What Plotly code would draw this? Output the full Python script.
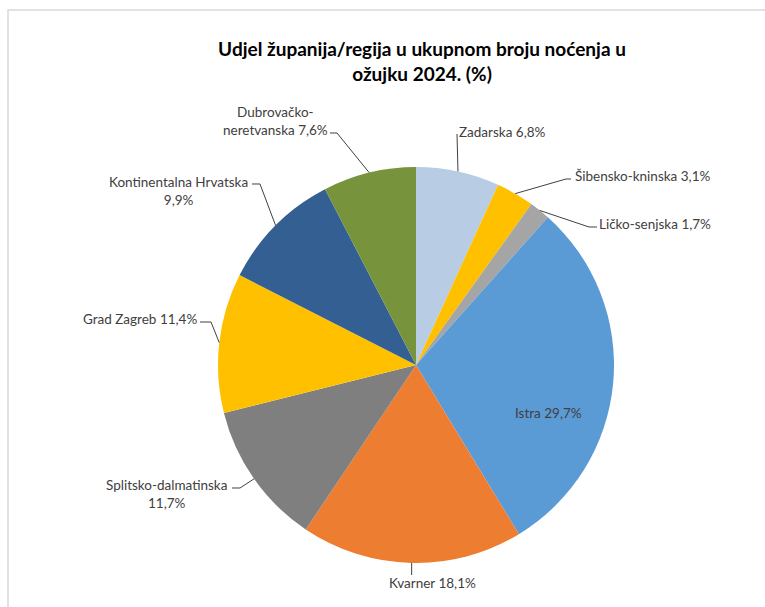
import math
import plotly.graph_objects as go

# ---- data ----
regions = ["Zadarska", "Šibensko-kninska", "Ličko-senjska", "Istra", "Kvarner",
           "Splitsko-dalmatinska", "Grad Zagreb", "Kontinentalna Hrvatska",
           "Dubrovačko-neretvanska"]
shares = [6.8, 3.1, 1.7, 29.7, 18.1, 11.7, 11.4, 9.9, 7.6]
colors = ["#B8CCE4", "#FFC000", "#A5A5A5", "#5B9BD5", "#ED7D31",
          "#7F7F7F", "#FFC000", "#335F93", "#77933C"]
title_text = "Udjel županija/regija u ukupnom broju noćenja u<br>ožujku 2024. (%)"

# ---- layout config (pixel positions in a 765x607 canvas) ----
W, H = 765, 607
CX, CY, R = 416, 365, 198
# label text: name separator ("<br>" or " "), centre of text, elbow points of leader line
label_cfg = {
    "Zadarska": dict(sep=" ", pos=(502, 132), elbow=[(457, 134)]),
    "Šibensko-kninska": dict(sep=" ", pos=(642, 176), elbow=[(571, 179), (566, 179)]),
    "Ličko-senjska": dict(sep=" ", pos=(655, 224), elbow=[(597, 227), (589, 227)]),
    "Istra": dict(sep=" ", pos=(548, 413), elbow=None),
    "Kvarner": dict(sep=" ", pos=(432, 583), elbow="vertical"),
    "Splitsko-dalmatinska": dict(sep="<br>", pos=(166, 494), elbow=[(232, 488), (240, 488)]),
    "Grad Zagreb": dict(sep=" ", pos=(140, 319), elbow=[(200, 322), (211, 322)]),
    "Kontinentalna Hrvatska": dict(sep="<br>", pos=(178, 191), elbow=[(252, 184), (260, 184)]),
    "Dubrovačko-neretvanska": dict(sep=None, pos=(275, 121), elbow=[(330, 133), (337, 133)]),
}


def px(x):
    return x / W


def py(y):
    return 1 - y / H


def fmt(v):
    return f"{v:.1f}".replace(".", ",") + "%"


fig = go.Figure()
fig.add_trace(go.Pie(
    labels=regions, values=shares, sort=False, direction="clockwise", rotation=0,
    marker=dict(colors=colors, line=dict(width=0)),
    textinfo="none", hoverinfo="label+percent", showlegend=False,
    domain=dict(x=[px(CX - R), px(CX + R)], y=[py(CY + R), py(CY - R)]),
))

annotations = []
shapes = []
total = sum(shares)
cum = 0.0
for name, val in zip(regions, shares):
    mid = (cum + val / 2) / total * 2 * math.pi
    cum += val
    cfg = label_cfg[name]
    if cfg["sep"] is None:
        a, b = name.split("-", 1)
        text = f"{a}-<br>{b} {fmt(val)}"
    else:
        text = f"{name}{cfg['sep']}{fmt(val)}"
    tx, ty = cfg["pos"]
    annotations.append(dict(
        x=px(tx), y=py(ty), xref="paper", yref="paper", text=text, showarrow=False,
        xanchor="center", yanchor="middle", align="center",
        font=dict(family="Lato", size=13.5, color="#404040"),
    ))
    ex = CX + R * math.sin(mid)
    ey = CY - R * math.cos(mid)
    if cfg["elbow"] is None:
        continue
    if cfg["elbow"] == "vertical":
        pts = [(ex, 575), (ex, ey)]
    else:
        pts = list(cfg["elbow"]) + [(ex, ey)]
    path = "M " + " L ".join(f"{px(x):.5f},{py(y):.5f}" for x, y in pts)
    shapes.append(dict(type="path", path=path, xref="paper", yref="paper",
                       line=dict(color="#404040", width=1)))

# outer chart frame (partially visible)
shapes.append(dict(type="rect", xref="paper", yref="paper",
                   x0=px(8), x1=1.2, y0=-0.2, y1=py(10),
                   line=dict(color="#D9D9D9", width=1.5), fillcolor="rgba(0,0,0,0)"))

fig.update_layout(
    width=W, height=H,
    margin=dict(l=0, r=0, t=0, b=0),
    paper_bgcolor="white", plot_bgcolor="white",
    title=dict(text=title_text, x=422 / W, xanchor="center", y=1 - 56 / H,
               yanchor="middle", yref="container",
               font=dict(family="Lato", size=19, color="#000000", weight="bold")),
    annotations=annotations, shapes=shapes,
)

fig.write_html("out.html", config={"displayModeBar": False},
               post_script="document.body.style.margin='0';document.body.style.overflow='hidden';")
